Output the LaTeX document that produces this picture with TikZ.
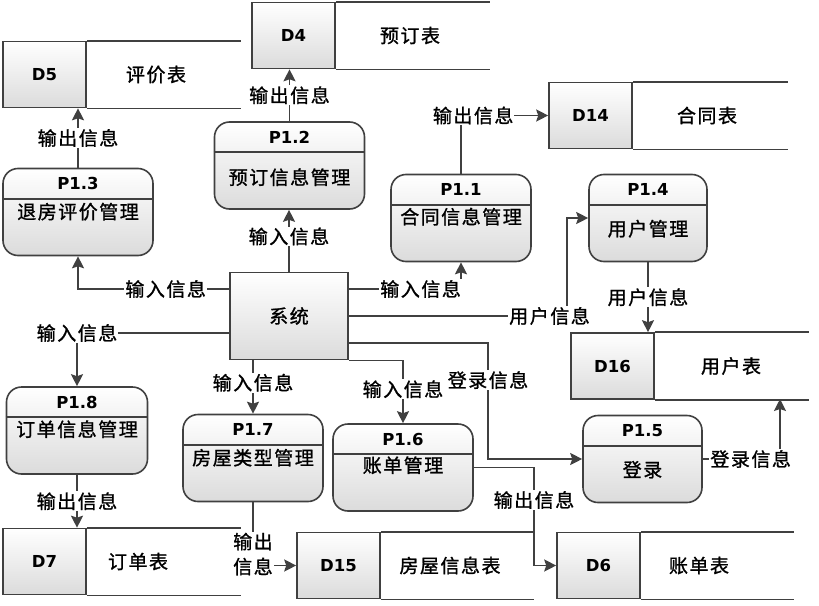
\documentclass[tikz,border=0pt]{standalone}
\usepackage{fontspec}
\setsansfont{DejaVu Sans}
\newfontfamily\cjk[LetterSpace=8,FakeBold=1.2]{Noto Sans CJK SC}
\usetikzlibrary{arrows.meta,positioning}

\tikzset{
  dfdline/.style={draw=black!75, line width=1.6pt},
  proc/.style={dfdline, rounded corners=15pt, top color=white, bottom color=black!14,
    minimum height=87pt, inner sep=0pt},
  sysbox/.style={dfdline, top color=white, bottom color=black!14,
    minimum width=118pt, minimum height=87pt, inner sep=0pt},
  idtext/.style={font=\sffamily\bfseries\fontsize{16.5}{16.5}\selectfont},
  storebox/.style={dfdline, top color=white, bottom color=black!14,
    minimum width=83pt, minimum height=66pt, inner sep=0pt, idtext},
  cntext/.style={font=\cjk\fontsize{19}{25}\selectfont},
  flow/.style={dfdline, -{Stealth[length=12pt,width=12pt,inset=2pt]}},
  lbl/.style={cntext, fill=white, inner sep=1pt},
}

% process: name, x, y, width, id, text, text offset
\newcommand{\dfdproc}[7]{%
  \node[proc, minimum width=#4pt] (#1) at (#2,#3) {};
  \draw[dfdline] ([yshift=-31pt]#1.north west) -- ([yshift=-31pt]#1.north east);
  \node[idtext] (#1id) at ([yshift=-16pt]#1.north) {#5};
  \node[cntext] (#1tx) at ([yshift=-#7pt]#1.north) {#6};
}
% data store: name, x, y, line end, id, text, text x
\newcommand{\dfdstore}[7]{%
  \node[storebox] (#1) at (#2,#3) {#5};
  \draw[dfdline] (#1.north east) -- ++({#4-#2-41.5},0);
  \draw[dfdline] (#1.south east) -- ++({#4-#2-41.5},0);
  \node[cntext] (#1tx) at (#7,#3) {#6};
}

\begin{document}
\begin{tikzpicture}[x=1pt,y=-1pt]
  \useasboundingbox (0,0) rectangle (819,605);

  % data stores
  \dfdstore{D5}{44.5}{74.5}{240}{D5}{评价表}{156}
  \dfdstore{D4}{293.5}{35.5}{489}{D4}{预订表}{410}
  \dfdstore{D14}{590.5}{115.5}{787}{D14}{合同表}{707}
  \dfdstore{D16}{612.5}{366}{808}{D16}{用户表}{731}
  \dfdstore{D7}{44.5}{561.5}{240}{D7}{订单表}{138}
  \dfdstore{D15}{338.5}{565.5}{533}{D15}{房屋信息表}{450}
  \dfdstore{D6}{598.5}{565.5}{793}{D6}{账单表}{699}

  % processes
  \dfdproc{P13}{78}{212}{150}{P1.3}{退房评价管理}{44}
  \dfdproc{P12}{289.5}{165.5}{150}{P1.2}{预订信息管理}{56}
  \dfdproc{P11}{461}{218}{140}{P1.1}{合同信息管理}{43}
  \dfdproc{P14}{648}{218}{118}{P1.4}{用户管理}{55}
  \dfdproc{P18}{77}{430.5}{141}{P1.8}{订单信息管理}{43}
  \dfdproc{P17}{253}{458}{140}{P1.7}{房屋类型管理}{44}
  \dfdproc{P16}{403}{467.5}{140}{P1.6}{账单管理}{42}
  \dfdproc{P15}{642.5}{459}{119}{P1.5}{登录}{55}

  % system
  \node[sysbox] (sys) at (289,316) {};
  \node[cntext] (systx) at (sys) {系统};

  \coordinate (c1) at (567,218);
  \coordinate (c2) at (488,343);
  \coordinate (c3) at (534,500);
  \coordinate (c4) at (780,399);

  % flows
  \draw[flow] ([yshift=27pt]sys.west) -| node[lbl,pos=0.21]{输入信息} (P13.south);
  \draw[flow] (P13.north) -- node[lbl]{输出信息} (P13.north |- D5.south);
  \draw[flow] (sys.north) -- node[lbl,pos=0.57]{输入信息} (sys.north |- P12.south);
  \draw[flow] (P12.north) -- node[lbl]{输出信息} (P12.north |- D4.south);
  \draw[flow] ([yshift=27pt]sys.east) -| node[lbl,pos=0.32]{输入信息} (P11.south);
  \draw[flow] (P11.north) |- node[lbl,pos=0.57]{输出信息} (D14.west);
  \draw[flow] (sys.east) -| node[lbl,pos=0.46]{用户信息} (c1) -- (P14.west);
  \draw[flow] (P14.south) -- node[lbl]{用户信息} (P14.south |- D16.north);
  \draw[flow] ([yshift=-17pt]sys.west) -| node[lbl,pos=0.5]{输入信息} (P18.north);
  \draw[flow] (P18.south) -- node[lbl]{输出信息} (P18.south |- D7.north);
  \draw[flow] (sys.south -| P17.north) -- node[lbl,pos=0.42]{输入信息} (P17.north);
  \draw[flow] (sys.south east) -| node[lbl,pos=0.73]{输入信息} (P16.north);
  \draw[flow] ([yshift=-27pt]sys.east) -- (c2) |- node[lbl,pos=0.16]{登录信息} (P15.west);
  \draw[flow] (P16.east) -| (c3) |- (D6.west);
  \node[lbl] (l14) at (c3) {输出信息};
  \draw[flow] (P15.east) -| node[lbl,pos=0.31]{登录信息} (c4);
  \draw[flow] (P17.south) |- node[lbl,pos=0.41,align=center]{输出\\信息} (D15.west);
\end{tikzpicture}
\end{document}
